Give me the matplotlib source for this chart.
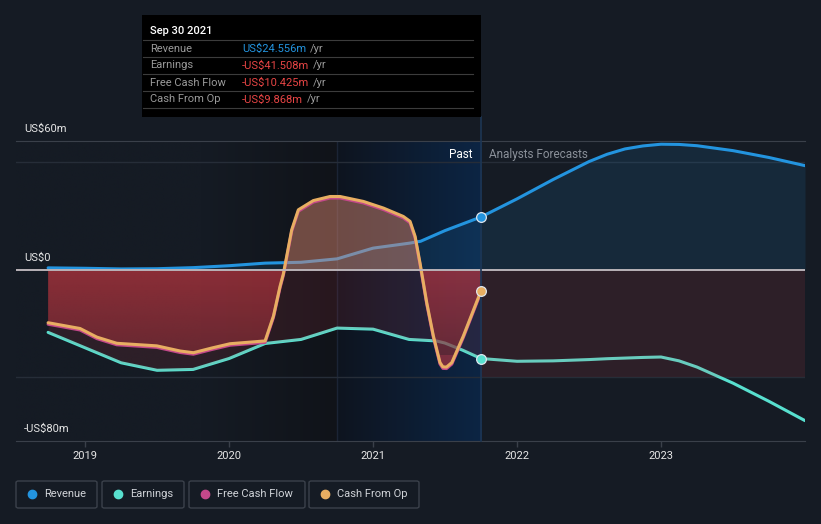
import numpy as np
import matplotlib.pyplot as plt
from matplotlib.patches import Rectangle, FancyBboxPatch
from matplotlib.lines import Line2D
from matplotlib.path import Path

plt.rcParams['font.family'] = ['Roboto', 'DejaVu Sans']

BG = '#151b24'
BLUE = '#2394df'
TEAL = '#58e0cf'
PINK = '#c4488a'
ORANGE = '#e8ae62'
RED = '#dc3c46'

# decimal years, values in US$m
rev_t = [2018.743, 2019.0, 2019.25, 2019.5, 2019.75, 2020.0, 2020.25, 2020.5,
         2020.75, 2020.875, 2021.0, 2021.25, 2021.33, 2021.5, 2021.75]
rev_v = [0.8, 0.6, 0.3, 0.4, 0.9, 1.8, 3.0, 3.4, 5.0, 7.5, 10.0, 12.3, 13.2, 18.2, 24.556]

earn_t = [2018.743, 2019.0, 2019.25, 2019.5, 2019.75, 2020.0, 2020.25, 2020.5,
          2020.75, 2021.0, 2021.25, 2021.44, 2021.5, 2021.625, 2021.75]
earn_v = [-29.3, -36.5, -43.5, -47.0, -46.6, -41.5, -34.5, -32.6,
          -27.3, -27.8, -32.6, -33.3, -34.3, -37.7, -41.508]

cash_t = [2018.743, 2018.965, 2019.081, 2019.22, 2019.498, 2019.66, 2019.752, 2019.88,
          2020.007, 2020.25, 2020.308, 2020.354, 2020.377, 2020.435, 2020.481, 2020.585,
          2020.701, 2020.771, 2020.933, 2021.072, 2021.21, 2021.257, 2021.292, 2021.326,
          2021.373, 2021.419, 2021.465, 2021.485, 2021.51, 2021.547, 2021.627, 2021.75]
cfo_v = [-24.8, -27.5, -31.5, -34.4, -35.6, -38.0, -38.8, -36.6,
         -34.6, -33.3, -21.7, -7.8, -2.0, 18.6, 27.9, 32.2,
         34.1, 34.1, 31.8, 28.7, 24.8, 22.5, 15.5, 3.1,
         -15.5, -31.0, -43.4, -45.4, -45.5, -43.4, -31.0, -9.868]
fcf_v = [-25.5, -28.2, -32.2, -35.1, -36.3, -38.7, -39.5, -37.3,
         -35.3, -34.0, -22.4, -8.5, -2.7, 17.9, 27.2, 31.5,
         33.4, 33.4, 31.1, 28.0, 24.1, 21.8, 14.8, 2.4,
         -16.2, -31.7, -44.1, -46.1, -46.2, -44.1, -31.7, -10.425]

# analyst forecasts
fc_t = [2021.75, 2022.0, 2022.25, 2022.5, 2022.625, 2022.75, 2022.875, 2023.0, 2023.125,
        2023.25, 2023.5, 2023.75, 2024.0]
fc_rev = [24.556, 33.0, 42.0, 50.4, 53.8, 56.3, 57.7, 58.5, 58.4, 57.8, 55.5, 52.3, 48.5]
fc_earn = [-41.508, -42.8, -42.6, -42.0, -41.6, -41.3, -41.0, -40.8, -42.6,
           -45.5, -53.0, -61.5, -70.5]
FORECAST_FLOOR = -50

years = [2019, 2020, 2021, 2022, 2023]
XMIN, XMAX = 2018.52, 2024.0
YMIN, YMAX = -80, 60
BAND_START, NOW = 2020.75, 2021.75

rev_t, rev_v = np.array(rev_t), np.array(rev_v)
earn_t, earn_v = np.array(earn_t), np.array(earn_v)
cash_t, cfo_v, fcf_v = np.array(cash_t), np.array(cfo_v), np.array(fcf_v)
fc_t, fc_rev, fc_earn = np.array(fc_t), np.array(fc_rev), np.array(fc_earn)

W, H = 821, 524
fig = plt.figure(figsize=(W / 100, H / 100), dpi=100, facecolor=BG)
ax = fig.add_axes([16 / W, 83 / H, 789 / W, 300 / H], facecolor=BG)
ax.set_xlim(XMIN, XMAX)
ax.set_ylim(YMIN, YMAX)

# background shading for the past year
n = 400
tt = np.linspace(XMIN, NOW, n)
img = np.zeros((1, n, 3))
bg = np.array([21, 27, 36]) / 255
dark = np.array([16, 19, 25]) / 255
bl = np.array([14, 20, 31]) / 255
br = np.array([12, 37, 68]) / 255
for i, t in enumerate(tt):
    if t < BAND_START:
        f = np.clip((t - 2019.8) / (BAND_START - 2019.8), 0, 1)
        img[0, i] = bg + (dark - bg) * f
    else:
        f = (t - BAND_START) / (NOW - BAND_START)
        img[0, i] = bl + (br - bl) * f
ax.imshow(img, extent=[XMIN, NOW, YMIN, YMAX], aspect='auto', zorder=0.5,
          interpolation='bilinear')
ax.axvline(BAND_START, color='#1b2435', lw=1, zorder=0.6)

# gridlines
for yv in (50, -50):
    ax.axhline(yv, color='#262d38', lw=1, zorder=1)

# lines drawn beneath fills
ax.plot(np.r_[rev_t, fc_t[1:]], np.r_[rev_v, fc_rev[1:]], color=BLUE, lw=2.2, zorder=2,
        solid_capstyle='round')
ax.plot(np.r_[earn_t, fc_t[1:]], np.r_[earn_v, fc_earn[1:]], color=TEAL, lw=2.2, zorder=2,
        solid_capstyle='round')


def sign_fill(t, v, color, a_pos, a_neg, z):
    ax.fill_between(t, v, 0, where=v >= 0, interpolate=True, color=color,
                    alpha=a_pos, lw=0, zorder=z)
    return ax.fill_between(t, v, 0, where=v <= 0, interpolate=True, color=RED,
                           alpha=a_neg, lw=0, zorder=z)


sign_fill(rev_t, rev_v, BLUE, 0.12, 0.12, 3)
sign_fill(earn_t, earn_v, TEAL, 0.12, 0.12, 3)
sign_fill(cash_t, fcf_v, PINK, 0.25, 0.32, 3)
neg = sign_fill(cash_t, cfo_v, ORANGE, 0.3, 0.32, 3)

# darken the red area towards the bottom
shade = np.zeros((60, 1, 4))
shade[..., :3] = bg
shade[:, 0, 3] = np.linspace(0, 0.3, 60)
im = ax.imshow(shade, extent=[XMIN, NOW, -40, 0], aspect='auto', zorder=3.1,
               interpolation='bilinear')
im.set_clip_path(Path.make_compound_path(*neg.get_paths()), ax.transData)
ax.set_ylim(YMIN, YMAX)

# forecast fills
ax.fill_between(fc_t, fc_rev, 0, color=BLUE, alpha=0.12, lw=0, zorder=3)
ax.fill_between(fc_t, 0, FORECAST_FLOOR, color=RED, alpha=0.12, lw=0, zorder=3)

ax.plot(cash_t, fcf_v, color=PINK, lw=2.2, zorder=4, solid_capstyle='round')
ax.plot(cash_t, cfo_v, color=ORANGE, lw=2.2, zorder=4, solid_capstyle='round')

ax.axhline(0, color='#b9b3b8', lw=1.4, zorder=5)
ax.axvline(NOW, ymin=0, ymax=1.08, color='#1d3654', lw=1.2, zorder=5, clip_on=False)

for v, c in ((rev_v[-1], BLUE), (earn_v[-1], TEAL), (cfo_v[-1], ORANGE)):
    ax.plot([NOW], [v], 'o', ms=7, mfc=c, mec='#dfe6ee', mew=0.9, zorder=6)

ax.text(NOW - 0.06, 53.5, 'Past', color='white', fontsize=8.5, ha='right', va='center', zorder=6)
ax.text(NOW + 0.055, 53.5, 'Analysts Forecasts', color='#8a9099', fontsize=8.5,
        ha='left', va='center', zorder=6)

for s in ('left', 'right'):
    ax.spines[s].set_visible(False)
for s in ('top', 'bottom'):
    ax.spines[s].set_color('#3a404a')
ax.set_yticks([])
ax.set_xticks(years)
ax.set_xticklabels([str(y) for y in years])
ax.tick_params(axis='x', colors='#3a404a', labelcolor='#e6e6e6', length=4, width=1,
               pad=3, labelsize=8)

# y labels
for txt, yp in (('US$60m', 129), ('US$0', 258), ('-US$80m', 429)):
    fig.text(24 / W, 1 - yp / H, txt, color='#e6e6e6', fontsize=8, va='center', ha='left')

# tooltip
fig.add_artist(Rectangle((142 / W, 1 - 117 / H), 339 / W, 102 / H, transform=fig.transFigure,
                         facecolor='black', edgecolor='none', zorder=10))
fig.text(150 / W, 1 - 31 / H, 'Sep 30 2021', color='white', fontsize=8, fontweight='medium',
         va='center', zorder=11)
for yl in (40, 57, 74, 91, 108):
    fig.add_artist(Line2D([143 / W, 473 / W], [1 - yl / H] * 2, transform=fig.transFigure,
                          color='#3c3c3c', lw=0.8, zorder=11))
rows = [('Revenue', 'US$24.556m', BLUE),
        ('Earnings', '-US$41.508m', '#e84545'),
        ('Free Cash Flow', '-US$10.425m', '#e84545'),
        ('Cash From Op', '-US$9.868m', '#e84545')]
r = fig.canvas.get_renderer()
for i, (lab, val, c) in enumerate(rows):
    yp = 1 - (48.5 + 17 * i) / H
    fig.text(150 / W, yp, lab, color='#9a9a9a', fontsize=8, va='center', zorder=11)
    t = fig.text(242 / W, yp, val, color=c, fontsize=8, va='center', zorder=11)
    bb = t.get_window_extent(renderer=r)
    fig.text(bb.x1 / W + 4 / W, yp, '/yr', color='#9a9a9a', fontsize=8, va='center', zorder=11)

# legend
legend = [('Revenue', BLUE, 16, 81), ('Earnings', TEAL, 102, 82),
          ('Free Cash Flow', PINK, 189, 116), ('Cash From Op', ORANGE, 309, 110)]
for lab, c, x0, w in legend:
    fig.add_artist(FancyBboxPatch((x0 / W, 1 - 508 / H), w / W, 27 / H,
                                  boxstyle='round,pad=0,rounding_size=0.003',
                                  transform=fig.transFigure, facecolor='none',
                                  edgecolor='#3b414b', lw=1))
    fig.add_artist(Line2D([(x0 + 15.5) / W], [1 - 494 / H], marker='o', ms=6, color=c,
                          transform=fig.transFigure, lw=0))
    fig.text((x0 + 28) / W, 1 - 494 / H, lab, color='#d0d3d8', fontsize=8, va='center')

fig.savefig('out.png', dpi=100, facecolor=BG)
